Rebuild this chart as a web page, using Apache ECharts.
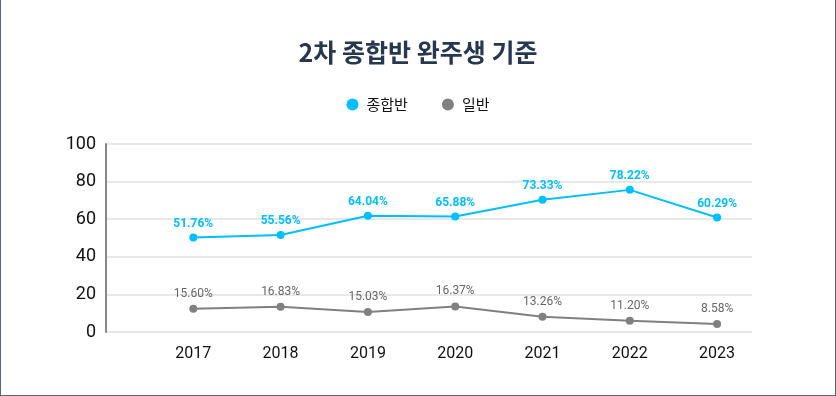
<!DOCTYPE html>
<html lang="ko">
<head>
    <meta charset="UTF-8">
    <title>2차 종합반 완주생 기준</title>
    <script src="https://cdn.jsdelivr.net/npm/echarts@6.0.0/dist/echarts.min.js"></script>
    <style>
        html, body { margin: 0; padding: 0; background: #fff; }
        #main {
            width: 834px; height: 395px;
            border-left: 1px solid #56677a;
            border-right: 1px solid #56677a;
            border-bottom: 1px solid #56677a;
        }
    </style>
</head>
<body>
    <div id="main"></div>
    <script type="text/javascript">
        // years on the x axis
        const years = ['2017', '2018', '2019', '2020', '2021', '2022', '2023'];

        // plotted values
        const comboValues = [50.2, 51.6, 61.8, 61.4, 70.3, 75.6, 60.9];
        const generalValues = [12.4, 13.4, 10.6, 13.6, 8.1, 6.0, 4.2];

        // labels printed above the points
        const comboLabels = ['51.76%', '55.56%', '64.04%', '65.88%', '73.33%', '78.22%', '60.29%'];
        const generalLabels = ['15.60%', '16.83%', '15.03%', '16.37%', '13.26%', '11.20%', '8.58%'];

        const yTicks = [0, 20, 40, 60, 80, 100];

        const blue = '#00bfff';
        const grey = '#808080';

        let myChart = echarts.init(document.getElementById('main'));

        function toPoints(values) {
            return values.map((v, i) => [Number(years[i]), v]);
        }

        let options = {
            animation: false,
            title: {
                text: '2차 종합반 완주생 기준',
                left: 'center',
                top: 35,
                textStyle: {
                    fontFamily: 'Noto Sans CJK KR',
                    fontSize: 25,
                    fontWeight: 'bold',
                    color: '#263750'
                }
            },
            legend: {
                top: 92,
                left: 'center',
                itemGap: 34,
                itemWidth: 12,
                itemHeight: 12,
                icon: 'circle',
                textStyle: {
                    fontFamily: 'Noto Sans CJK KR',
                    fontSize: 15,
                    color: '#111',
                    padding: [0, 0, 0, 3]
                },
                data: ['종합반', '일반']
            },
            grid: { left: 105, right: 83, top: 144, bottom: 63 },
            xAxis: {
                type: 'value',
                min: 2016,
                max: 2023.4,
                interval: 1,
                splitLine: { show: false },
                axisLine: { show: false },
                axisTick: { show: false },
                axisLabel: {
                    showMaxLabel: false,
                    margin: 14,
                    fontFamily: 'Roboto',
                    fontSize: 16,
                    color: '#111',
                    formatter: v => years.includes(String(v)) ? String(v) : ''
                }
            },
            yAxis: {
                type: 'value',
                min: yTicks[0],
                max: yTicks[yTicks.length - 1],
                interval: 20,
                axisLine: { show: true, lineStyle: { color: '#888', width: 2 } },
                axisTick: { show: false },
                splitLine: { lineStyle: { color: '#e0e0e0', width: 1.5 } },
                axisLabel: {
                    margin: 10,
                    fontFamily: 'Roboto',
                    fontSize: 18,
                    color: '#111'
                }
            },
            series: [
                {
                    name: '종합반',
                    type: 'line',
                    data: toPoints(comboValues),
                    symbol: 'circle',
                    symbolSize: 8,
                    itemStyle: { color: blue },
                    lineStyle: { color: blue, width: 2 },
                    label: {
                        show: true,
                        position: 'top',
                        distance: 4,
                        fontFamily: 'Roboto',
                        fontSize: 12,
                        fontWeight: 'bold',
                        color: blue,
                        formatter: p => comboLabels[p.dataIndex]
                    }
                },
                {
                    name: '일반',
                    type: 'line',
                    data: toPoints(generalValues),
                    symbol: 'circle',
                    symbolSize: 8,
                    itemStyle: { color: grey },
                    lineStyle: { color: grey, width: 2 },
                    label: {
                        show: true,
                        position: 'top',
                        distance: 5,
                        fontFamily: 'Roboto',
                        fontSize: 12,
                        color: '#666',
                        formatter: p => generalLabels[p.dataIndex]
                    }
                }
            ]
        };

        myChart.setOption(options);
    </script>
</body>
</html>
